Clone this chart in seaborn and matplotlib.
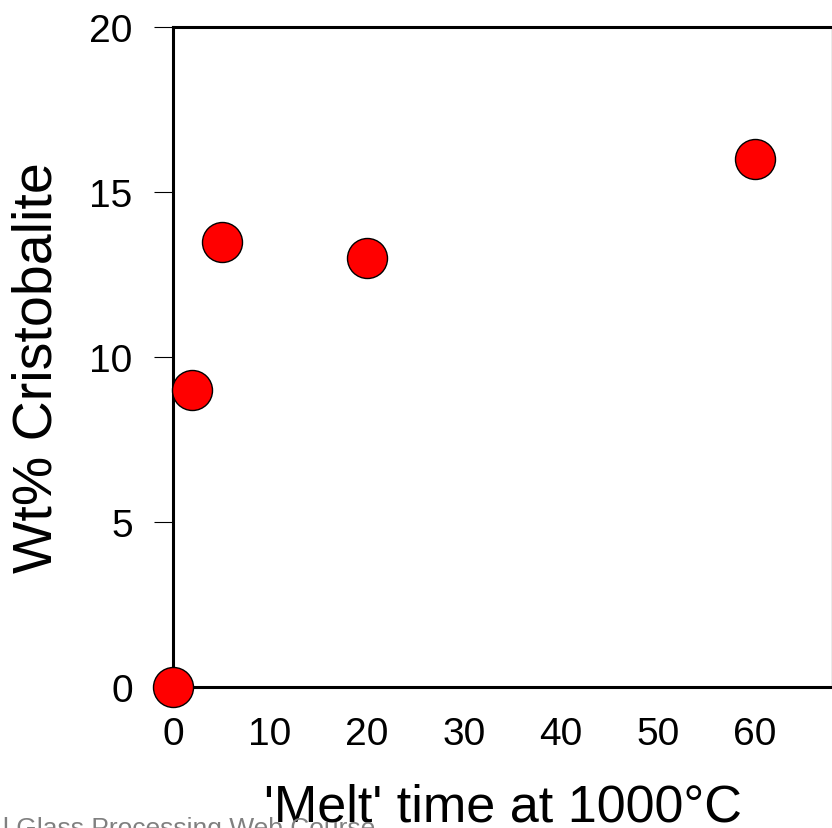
import matplotlib
matplotlib.use("Agg")
import matplotlib.pyplot as plt
import seaborn as sns
import pandas as pd

melt_time = [0, 2, 5, 20, 60]
wt_cristobalite = [0, 9, 13.5, 13, 16]
x_ticks = [0, 10, 20, 30, 40, 50, 60]
y_ticks = [0, 5, 10, 15, 20]

sns.set_style("white")
plt.rcParams['font.family'] = ['Liberation Sans', 'DejaVu Sans']
plt.rcParams['text.color'] = 'black'
plt.rcParams['axes.labelcolor'] = 'black'

df = pd.DataFrame({"time": melt_time, "wt": wt_cristobalite})

fig = plt.figure(figsize=(8.32, 8.29), dpi=100)
ax = fig.add_axes([173/832, 1 - 688/829, 1 - 173/832, (688 - 28)/829])

sns.scatterplot(data=df, x="time", y="wt", ax=ax, s=830, color="#ff0000",
                edgecolor="black", linewidth=1, clip_on=False, zorder=5)

ax.set_xlim(0, (832 - 173) / 9.7)
ax.set_ylim(0, 20)
ax.set_xticks(x_ticks)
ax.set_yticks(y_ticks)

for s in ["left", "bottom", "top"]:
    ax.spines[s].set_linewidth(2.2)
    ax.spines[s].set_color("black")
ax.spines["right"].set_linewidth(1)
ax.spines["right"].set_color("#999999")

ax.tick_params(axis="x", direction="in", length=13, width=0.8, pad=21,
               labelsize=28, colors="black")
ax.tick_params(axis="y", direction="out", length=14, width=0.8, pad=15,
               labelsize=28, colors="black", left=True)

ax.set_xlabel("'Melt' time at 1000°C", fontsize=37.5, labelpad=22, color="black")
ax.set_ylabel("Wt% Cristobalite", fontsize=40, color="black")
ax.yaxis.set_label_coords((64 - 173) / 659, (688 - 368) / 660)

fig.text(3/832, 1 - 836/829, "l Glass Processing Web Course", fontsize=19,
         color="#808080", ha="left", va="baseline", zorder=0)

fig.savefig("out.png", dpi=100)
